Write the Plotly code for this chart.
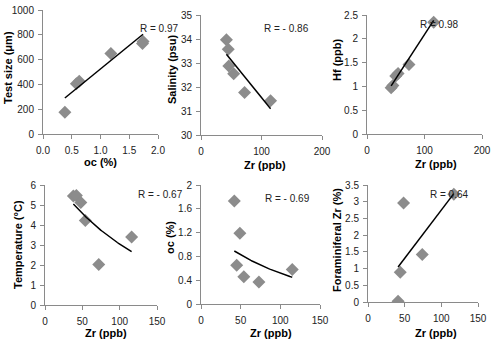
import numpy as np
import plotly.graph_objects as go

# ---- data ----
oc_p1 = [0.38, 0.58, 0.63, 1.18, 1.73, 1.74]
test_size = [175, 405, 425, 650, 730, 745]

zr_p2 = [42, 45, 46, 54, 72, 115]
salinity = [33.97, 33.57, 32.87, 32.55, 31.77, 31.43]

zr_p3 = [42, 45, 50, 54, 73, 116]
hf = [0.97, 1.02, 1.22, 1.27, 1.46, 2.35]

zr_p4 = [38, 42, 48, 54, 72, 116]
temperature = [5.45, 5.47, 5.13, 4.22, 2.03, 3.40]

zr_p5 = [42, 45, 49, 54, 73, 115]
oc_p5 = [1.73, 0.65, 1.19, 0.46, 0.37, 0.58]

zr_p6 = [41, 44, 48.5, 74, 117]
foram_zr = [0.02, 0.89, 2.96, 1.42, 3.22]

r_labels = ["R = 0.97", "R = - 0.86", "R = 0.98", "R = - 0.67", "R = - 0.69", "R = 0.64"]

# trend line coefficients (linear: a + b*x ; exp: a*exp(b*x))
trend_kind = ["lin", "lin", "lin", "exp", "exp", "lin"]
trend_a = [147, 34.674, 0.230, 6.883, 1.322, -0.134]
trend_b = [378, -0.03116, 0.01861, -0.00815, -0.00939, 0.02885]

xs = [oc_p1, zr_p2, zr_p3, zr_p4, zr_p5, zr_p6]
ys = [test_size, salinity, hf, temperature, oc_p5, foram_zr]

x_titles = ["oc (%)", "Zr (ppb)", "Zr (ppb)", "Zr (ppb)", "Zr (ppb)", "Zr (ppb)"]
y_titles = ["Test size (μm)", "Salinity (psu)", "Hf (ppb)", "Temperature (°C)", "oc (%)", "Foraminiferal Zr (%)"]

x_ranges = [[0, 2], [0, 200], [0, 200], [0, 150], [0, 150], [0, 150]]
x_dticks = [0.5, 100, 100, 50, 50, 50]
x_fmt = ["0.1f", "", "", "", "", ""]
y_ranges = [[0, 1000], [30, 35], [0, 2.5], [0, 6], [0, 2], [0, 3.5]]
y_dticks = [200, 1, 0.5, 1, 0.4, 0.5]

W, H = 500, 344
# plot areas in pixels: (left, right, top, bottom)
boxes = [(43, 158, 10, 134), (201, 322, 15, 135), (367, 482, 15, 134),
         (45, 157, 185, 305), (201, 320, 185, 304), (368, 478, 185, 302)]
r_pos = [(138, 21), (286, 21), (461, 17), (136, 194), (287, 198), (471, 194)]
xt_pos = [(100, 162), (265, 165), (436, 164), (106, 333), (271, 333), (436, 333)]
yt_pos = [(8, 68), (172, 70), (337, 60), (18, 245), (170, 238), (337, 240)]

fig = go.Figure()
font = "Liberation Sans, Arial, sans-serif"
axcol = "#8a8a8a"

for i in range(6):
    n = "" if i == 0 else str(i + 1)
    xa, ya = "x" + n, "y" + n
    fig.add_trace(go.Scatter(
        x=xs[i], y=ys[i], mode="markers", xaxis=xa, yaxis=ya,
        marker=dict(symbol="diamond", size=10, color="#8c8c8c"),
        showlegend=False, hoverinfo="x+y"))
    tx = np.linspace(min(xs[i]), max(xs[i]), 50)
    if trend_kind[i] == "lin":
        ty = trend_a[i] + trend_b[i] * tx
    else:
        ty = trend_a[i] * np.exp(trend_b[i] * tx)
    fig.add_trace(go.Scatter(
        x=tx, y=ty, mode="lines", xaxis=xa, yaxis=ya,
        line=dict(color="black", width=1.5), showlegend=False, hoverinfo="skip"))

    l, r, t, b = boxes[i]
    xdom = [l / W, r / W]
    ydom = [1 - b / H, 1 - t / H]
    common = dict(showgrid=False, zeroline=False, showline=True, linecolor=axcol,
                  linewidth=1, ticks="outside", ticklen=4, tickcolor=axcol,
                  automargin=False,
                  tickfont=dict(family=font, size=10, color="#222"))
    fig.layout["xaxis" + n] = dict(domain=xdom, range=x_ranges[i], dtick=x_dticks[i],
                                   tick0=0, anchor=ya, tickformat=x_fmt[i],
                                   ticklabelstandoff=3, **common)
    fig.layout["yaxis" + n] = dict(domain=ydom, range=y_ranges[i], dtick=y_dticks[i],
                                   tick0=0, anchor=xa, ticklabelstandoff=2, **common)
    rx, ry = r_pos[i]
    fig.add_annotation(x=rx / W, y=1 - ry / H, xref="paper", yref="paper",
                       text=r_labels[i], showarrow=False,
                       font=dict(family=font, size=10, color="#222"))
    px, py = xt_pos[i]
    fig.add_annotation(x=px / W, y=1 - py / H, xref="paper", yref="paper",
                       text="<b>" + x_titles[i] + "</b>", showarrow=False,
                       xanchor="center", yanchor="middle",
                       font=dict(family=font, size=11, color="black"))
    px, py = yt_pos[i]
    fig.add_annotation(x=px / W, y=1 - py / H, xref="paper", yref="paper",
                       text="<b>" + y_titles[i] + "</b>", showarrow=False,
                       textangle=-90, xanchor="center", yanchor="middle",
                       font=dict(family=font, size=11, color="black"))

fig.update_layout(width=W, height=H, margin=dict(l=0, r=0, t=0, b=0),
                  paper_bgcolor="white", plot_bgcolor="white")
fig.write_html("out.html", config={"displayModeBar": False},
               post_script="document.body.style.margin='0';document.body.style.overflow='hidden';")
